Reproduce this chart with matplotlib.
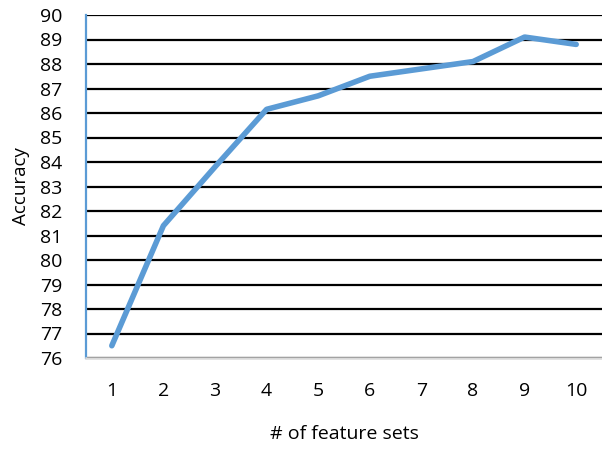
import matplotlib
matplotlib.use("Agg")
import matplotlib.pyplot as plt

categories = ["1", "2", "3", "4", "5", "6", "7", "8", "9", "10"]
accuracy = [76.5, 81.4, 83.8, 86.15, 86.7, 87.5, 87.8, 88.1, 89.1, 88.8]
yticks = list(range(76, 91))

plt.rcParams['font.family'] = ['Open Sans', 'DejaVu Sans']

fig = plt.figure(figsize=(6.02, 4.49), dpi=100)
ax = fig.add_axes([86/602, 91/449, 516/602, 343/449])

x = list(range(1, len(categories) + 1))
ax.plot(x, accuracy, color='#5B9BD5', linewidth=4.0, solid_capstyle='round',
        solid_joinstyle='round', zorder=3)

ax.set_xlim(0.5, 10.5)
ax.set_ylim(76, 90)
ax.set_yticks(yticks)
ax.set_xticks(x)
ax.set_xticklabels(categories)
ax.yaxis.grid(True, color='black', linewidth=1.6)
ax.set_axisbelow(True)
ax.tick_params(axis='both', length=0, labelsize=14, colors='black')
ax.tick_params(axis='y', pad=17)
ax.tick_params(axis='x', pad=17)

for s in ['top', 'right']:
    ax.spines[s].set_visible(False)
ax.spines['left'].set_color('#5B9BD5')
ax.spines['left'].set_linewidth(1.6)
ax.spines['bottom'].set_color('#D9D9D9')
ax.spines['bottom'].set_linewidth(1.8)

ax.set_ylabel('Accuracy', fontsize=13.5, labelpad=7)
ax.set_xlabel('# of feature sets', fontsize=14, labelpad=18)

fig.savefig('out.png', dpi=100)
